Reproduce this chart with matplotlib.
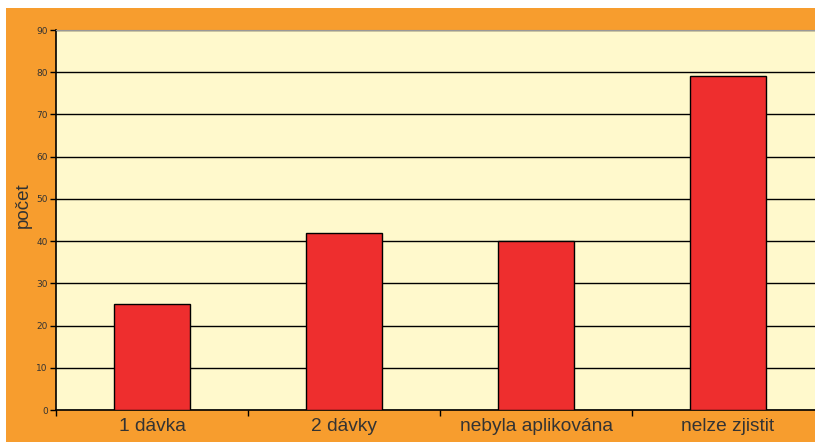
import numpy as np
import matplotlib.pyplot as plt
from matplotlib.patches import Rectangle

categories = ["1 dávka", "2 dávky", "nebyla aplikována", "nelze zjistit"]
values = [25, 42, 40, 79]
yticks = list(range(0, 91, 10))

W, H = 815, 442
fig = plt.figure(figsize=(W / 100, H / 100), dpi=100, facecolor="white")

# orange frame behind the chart
fig.patches.append(Rectangle((6 / W, 0), 1, (H - 8) / H, transform=fig.transFigure,
                             facecolor="#F79D2E", edgecolor="none", zorder=-10))

ax = fig.add_axes([56 / W, 32 / H, 768 / W, 380 / H])
ax.set_facecolor("#FFF9CC")

x = np.arange(len(categories))
ax.bar(x, values, width=0.4, color="#EE2E2E", edgecolor="black", linewidth=1, zorder=3)

ax.set_xlim(-0.5, len(categories) - 0.5)
ax.set_ylim(0, 90)
ax.set_yticks(yticks)
ax.set_yticklabels([str(t) for t in yticks], fontsize=6.5, color="#333333")
ax.yaxis.grid(True, color="black", linewidth=1)
ax.set_axisbelow(True)

font = "Liberation Sans"
ax.set_xticks(x)
ax.set_xticklabels(categories, fontsize=13.8, family=font, color="#333333")
ax.tick_params(axis="x", which="major", length=0, pad=6)
ax.set_xticks(np.arange(-0.5, len(categories) - 0.4, 1), minor=True)
ax.tick_params(axis="x", which="minor", length=4, width=1, direction="out")
ax.tick_params(axis="y", length=4, width=1, direction="out", pad=2)

for s in ["left", "bottom"]:
    ax.spines[s].set_color("black")
    ax.spines[s].set_linewidth(1.2)
ax.spines["top"].set_color("#999999")
ax.spines["right"].set_visible(False)

ax.set_ylabel("počet", fontsize=13.5, family=font, color="#333333")
ax.yaxis.set_label_coords(-0.031, 0.54)

fig.savefig("out.png", dpi=100, facecolor=fig.get_facecolor())
